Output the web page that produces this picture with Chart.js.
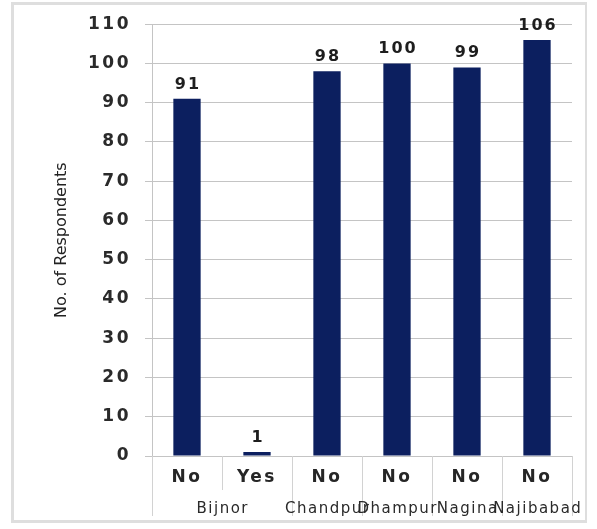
<!DOCTYPE html>
<html>
<head>
<meta charset="utf-8">
<script src="https://cdn.jsdelivr.net/npm/chart.js@4/dist/chart.umd.min.js"></script>
<style>
  html, body { margin: 0; padding: 0; background: #fff; }
  #wrap { position: relative; width: 597px; height: 529px; }
  #frame {
    position: absolute; left: 11px; top: 2px; width: 571px; height: 515px;
    border: 3px solid #dedede; border-right-width: 2px; box-sizing: content-box;
  }
  canvas { position: absolute; left: 0; top: 0; }
</style>
</head>
<body>
<div id="wrap">
  <div id="frame"></div>
  <canvas id="c" width="597" height="529"></canvas>
</div>
<script>
// Responses per town: answer categories, the town each belongs to, and counts
const answers = ['No', 'Yes', 'No', 'No', 'No', 'No'];
const towns = ['Bijnor', 'Bijnor', 'Chandpur', 'Dhampur', 'Nagina', 'Najibabad'];
const respondents = [91, 1, 98, 100, 99, 106];
const yTicks = [0, 10, 20, 30, 40, 50, 60, 70, 80, 90, 100, 110];

const NAVY = '#0c1f5f';
const GRID = '#c4c4c4';
const BOLD_FONT = '"DejaVu Sans", "Liberation Sans", Arial, sans-serif';

// Value labels, grouped town labels, divider lines below the axis and the y title
const extras = {
  id: 'extras',
  beforeDraw(chart) {
    chart.ctx.letterSpacing = '2.5px';
  },
  afterDraw(chart) {
    const ctx = chart.ctx;
    const x = chart.scales.x;
    const area = chart.chartArea;
    const meta = chart.getDatasetMeta(0);
    const n = answers.length;

    ctx.save();
    // bar value labels
    ctx.letterSpacing = '2px';
    ctx.font = 'bold 16px ' + BOLD_FONT;
    ctx.fillStyle = '#1e1e1e';
    ctx.textAlign = 'center';
    ctx.textBaseline = 'alphabetic';
    meta.data.forEach((bar, i) => {
      ctx.fillText(String(respondents[i]), bar.x + 1, bar.y - 10);
    });

    // dividers under the axis: short between answers, long between towns
    const half = (x.getPixelForValue(1) - x.getPixelForValue(0)) / 2;
    ctx.strokeStyle = '#d2d2d2';
    ctx.lineWidth = 1;
    for (let i = 0; i <= n; i++) {
      const px = Math.round((i < n ? x.getPixelForValue(i) - half : x.getPixelForValue(n - 1) + half)) + 0.5;
      const groupEdge = i === 0 || i === n || towns[i] !== towns[i - 1];
      ctx.beginPath();
      ctx.moveTo(px, area.bottom);
      ctx.lineTo(px, groupEdge ? area.bottom + 60 : area.bottom + 34);
      ctx.stroke();
    }

    // town names, centred under their answer groups
    ctx.letterSpacing = '1.5px';
    ctx.font = '15px ' + BOLD_FONT;
    ctx.fillStyle = '#2a2a2a';
    ctx.textBaseline = 'middle';
    let start = 0;
    for (let i = 1; i <= n; i++) {
      if (i === n || towns[i] !== towns[start]) {
        const cx = (x.getPixelForValue(start) + x.getPixelForValue(i - 1)) / 2;
        ctx.fillText(towns[start], cx + 0.75, area.bottom + 53);
        start = i;
      }
    }

    // y axis title
    ctx.letterSpacing = '0px';
    ctx.font = '16px ' + BOLD_FONT;
    ctx.fillStyle = '#222';
    ctx.translate(62, (area.top + area.bottom) / 2);
    ctx.rotate(-Math.PI / 2);
    ctx.fillText('No. of Respondents', 0, 0);
    ctx.restore();
  }
};

new Chart(document.getElementById('c'), {
  type: 'bar',
  data: {
    labels: answers,
    datasets: [{
      data: respondents,
      backgroundColor: NAVY,
      borderWidth: 0,
      barPercentage: 0.39,
      categoryPercentage: 1.0
    }]
  },
  options: {
    responsive: false,
    animation: false,
    events: [],
    layout: { padding: { top: 22, right: 25, left: 0, bottom: 0 } },
    plugins: { legend: { display: false }, tooltip: { enabled: false } },
    scales: {
      x: {
        grid: { display: false, drawTicks: false, tickLength: 0 },
        border: { display: false },
        ticks: {
          padding: 11,
          color: '#262626',
          font: { family: BOLD_FONT, size: 17, weight: 'bold' }
        },
        afterFit(scale) { scale.height = 73; }
      },
      y: {
        min: 0,
        max: 110,
        afterBuildTicks(scale) { scale.ticks = yTicks.map(v => ({ value: v })); },
        grid: { color: GRID, lineWidth: 1, drawTicks: true, tickLength: 7, tickColor: GRID },
        border: { display: true, color: GRID },
        ticks: {
          padding: 14,
          color: '#2a2a2a',
          font: { family: BOLD_FONT, size: 17, weight: 'bold' }
        },
        afterFit(scale) { scale.width = 152; }
      }
    }
  },
  plugins: [extras]
});
</script>
</body>
</html>
